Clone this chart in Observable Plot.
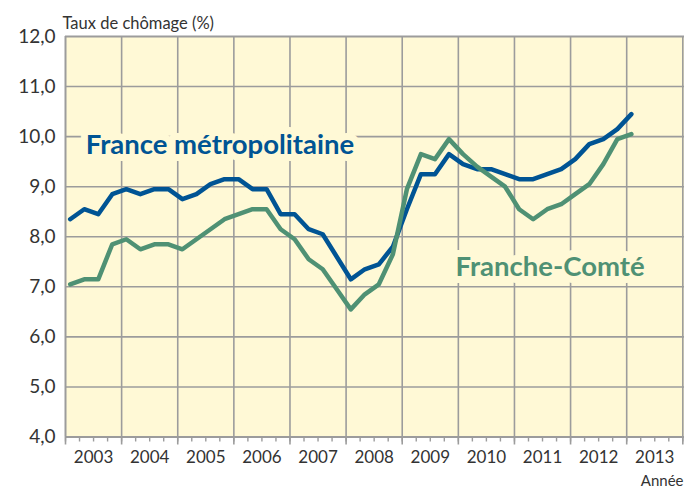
<!DOCTYPE html>
<html>
<head>
<meta charset="utf-8">
<script src="https://cdn.jsdelivr.net/npm/d3@7"></script>
<script src="https://cdn.jsdelivr.net/npm/@observablehq/plot@0.6"></script>
<style>
  html, body { margin: 0; padding: 0; background: #ffffff; }
  #chart svg { display: block; }
</style>
</head>
<body>
<div id="chart"></div>
<script>
// Quarterly unemployment rate (%), 2003 T1 .. 2013 T1
const firstYear = 2003;
const france = [8.35, 8.55, 8.45, 8.85, 8.95, 8.85, 8.95, 8.95, 8.75, 8.85, 9.05, 9.15, 9.15, 8.95, 8.95, 8.45, 8.45, 8.15, 8.05, 7.6, 7.15, 7.35, 7.45, 7.8, 8.55, 9.25, 9.25, 9.65, 9.45, 9.35, 9.35, 9.25, 9.15, 9.15, 9.25, 9.35, 9.55, 9.85, 9.95, 10.15, 10.45];
const francheComte = [7.05, 7.15, 7.15, 7.85, 7.95, 7.75, 7.85, 7.85, 7.75, 7.95, 8.15, 8.35, 8.45, 8.55, 8.55, 8.15, 7.95, 7.55, 7.35, 6.95, 6.55, 6.85, 7.05, 7.65, 8.95, 9.65, 9.55, 9.95, 9.65, 9.4, 9.2, 9.0, 8.55, 8.35, 8.55, 8.65, 8.85, 9.05, 9.45, 9.95, 10.05];
const seriesNames = ["France métropolitaine", "Franche-Comté"];
const seriesColors = ["#005494", "#4f9174"];
const yearLabels = [2003, 2004, 2005, 2006, 2007, 2008, 2009, 2010, 2011, 2012, 2013];
const yTicks = [4, 5, 6, 7, 8, 9, 10, 11, 12];

const toX = (i) => firstYear + i / 4 + 1 / 12;
const rows = [];
[france, francheComte].forEach((vals, s) => vals.forEach((v, i) => rows.push({series: seriesNames[s], x: toX(i), v})));

const yearBounds = yearLabels.concat([2014]);
const quarterTicks = d3.range(yearLabels.length * 4 + 1).map(k => firstYear + k / 4);
const bg = "#fff9d6";
const grid = "#9c9c9c";
const font = "Lato, 'Open Sans', sans-serif";

const chart = Plot.plot({
  width: 684,
  height: 488,
  marginLeft: 65,
  marginRight: 0,
  marginTop: 36,
  marginBottom: 51.5,
  style: {fontFamily: font, background: "#ffffff", color: "#333"},
  x: {domain: [2003, 2014.03], axis: null},
  y: {domain: [4, 12], axis: null},
  color: {domain: seriesNames, range: seriesColors},
  marks: [
    Plot.frame({fill: bg, stroke: "none"}),
    Plot.ruleX(yearBounds.slice(1), {stroke: grid, strokeWidth: 1.6}),
    Plot.ruleY(yTicks.slice(1, -1), {stroke: grid, strokeWidth: 1.6}),
    Plot.ruleY([4, 12], {stroke: grid, strokeWidth: 2}),
    Plot.ruleX([2003], {stroke: grid, strokeWidth: 2}),
    Plot.axisX({ticks: quarterTicks, tickSize: 5, tickFormat: () => "", label: null, stroke: grid, strokeWidth: 1.4}),
    Plot.axisX({ticks: yearBounds, tickSize: 8, tickFormat: () => "", label: null, stroke: grid, strokeWidth: 1.6}),
    Plot.axisX({ticks: yearLabels.map(y => y + 0.5), tickSize: 0, tickPadding: 14, fontSize: 17, fill: "#333",
      label: null, tickFormat: d => String(Math.floor(d))}),
    Plot.axisY({ticks: yTicks, tickSize: 0, tickPadding: 10, fontSize: 19, fill: "#333",
      label: null, tickFormat: d => d.toFixed(1).replace(".", ",")}),
    Plot.line(rows, {x: "x", y: "v", z: "series", stroke: "series", strokeWidth: 4.5,
      strokeLinejoin: "round", strokeLinecap: "round"}),
    Plot.text([seriesNames[0]], {x: 2003.36, y: 9.83, text: d => d, textAnchor: "start", fill: seriesColors[0],
      fontSize: 27.5, fontWeight: "bold", stroke: bg, strokeWidth: 14, strokeLinejoin: "round"}),
    Plot.text([seriesNames[1]], {x: 2009.95, y: 7.40, text: d => d, textAnchor: "start", fill: seriesColors[1],
      fontSize: 27.5, fontWeight: "bold", stroke: bg, strokeWidth: 14, strokeLinejoin: "round"}),
    Plot.text(["Taux de chômage (%)"], {frameAnchor: "top-left", textAnchor: "start", lineAnchor: "bottom",
      dx: -3, dy: -8, fontSize: 16.5, fill: "#333"}),
    Plot.text(["Année"], {frameAnchor: "bottom-right", textAnchor: "end", lineAnchor: "bottom",
      dx: -1, dy: 49, fontSize: 15, fill: "#333"})
  ]
});
document.getElementById("chart").appendChild(chart);
</script>
</body>
</html>
